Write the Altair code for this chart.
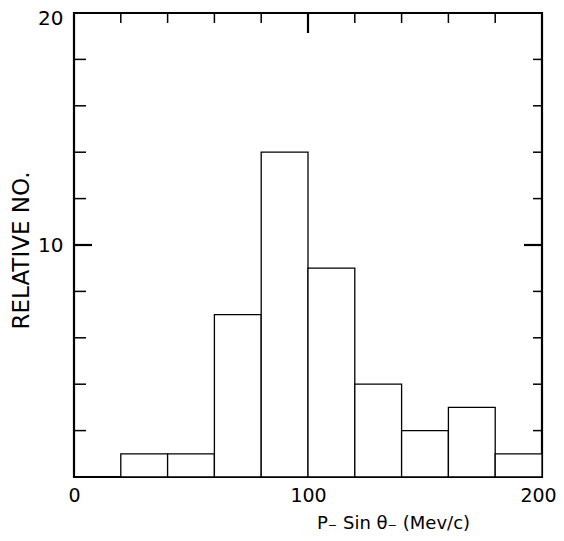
import altair as alt
import pandas as pd

# Histogram data
bin_start = [20, 40, 60, 80, 100, 120, 140, 160, 180]
bin_end = [40, 60, 80, 100, 120, 140, 160, 180, 200]
counts = [1, 1, 7, 14, 9, 4, 2, 3, 1]

# Tick positions
y_minor = [2, 4, 6, 8, 12, 14, 16, 18]
y_major = [10]
x_minor = [20, 40, 60, 80, 120, 140, 160, 180]
x_major = [100]
x_labels = [0, 100, 200]
y_labels = [10, 20]

W, H = 468, 464
FONT = "DejaVu Sans"

bars_df = pd.DataFrame({"start": bin_start, "end": bin_end, "count": counts})
ymin_df = pd.DataFrame({"v": y_minor})
ymaj_df = pd.DataFrame({"v": y_major})
xmin_df = pd.DataFrame({"v": x_minor})
xmaj_df = pd.DataFrame({"v": x_major})

xscale = alt.Scale(domain=[0, 200], nice=False, zero=False)
yscale = alt.Scale(domain=[0, 20], nice=False)

xaxis = alt.Axis(
    values=x_labels, ticks=False, domain=False, grid=False,
    labelFontSize=19, labelFont=FONT, labelColor="black",
    labelPadding=9, labelFlush=False, labelOverlap=False,
    labelOffset={"condition": {"test": "datum.value == 200", "value": -4}, "value": 0},
    title="P₋ Sin θ₋ (Mev/c)", titleFont=FONT, titleFontSize=18,
    titleFontWeight="normal", titleColor="black",
    titleX=319, titleY=46, titleBaseline="middle", titleAlign="center",
)
yaxis = alt.Axis(
    values=y_labels, ticks=False, domain=False, grid=False,
    labelFontSize=20, labelFont=FONT, labelColor="black",
    labelPadding=11, labelFlush=False, labelOverlap=False,
    labelOffset={"condition": {"test": "datum.value == 20", "value": 5}, "value": 0},
    title="RELATIVE NO.", titleFont=FONT, titleFontSize=23,
    titleFontWeight="normal", titleColor="black",
    titleX=-53, titleY=237, titleAngle=270,
    titleBaseline="middle", titleAlign="center",
)

bars = alt.Chart(bars_df).mark_rect(
    fill="white", stroke="black", strokeWidth=1.3
).encode(
    x=alt.X("start:Q", scale=xscale, axis=xaxis),
    x2="end:Q",
    y=alt.Y("count:Q", scale=yscale, axis=yaxis),
    y2=alt.datum(0),
)

def yticks(df, x0, x1, sw):
    return alt.Chart(df).mark_rule(color="black", strokeWidth=sw).encode(
        y=alt.Y("v:Q", scale=yscale, axis=yaxis),
        x=alt.value(x0), x2=alt.value(x1),
    )

def xticks(df, length, sw):
    return alt.Chart(df).mark_rule(color="black", strokeWidth=sw).encode(
        x=alt.X("v:Q", scale=xscale, axis=xaxis),
        y=alt.value(0), y2=alt.value(length),
    )

layers = [
    bars,
    yticks(ymin_df, 0, 12, 1.5),
    yticks(ymaj_df, 0, 18, 2.2),
    yticks(ymin_df, W - 9, W, 1.5),
    yticks(ymaj_df, W - 18, W, 2.2),
    xticks(xmin_df, 10, 1.5),
    xticks(xmaj_df, 20, 2.2),
]

chart = alt.layer(*layers).properties(
    width=W, height=H,
    background="white",
    autosize=alt.AutoSizeParams(type="none"),
    padding={"left": 66, "top": 5, "right": 14, "bottom": 56},
).configure_view(
    stroke="black", strokeWidth=2.2
)

chart.save("out.html", embed_options={"renderer": "svg", "actions": False})
